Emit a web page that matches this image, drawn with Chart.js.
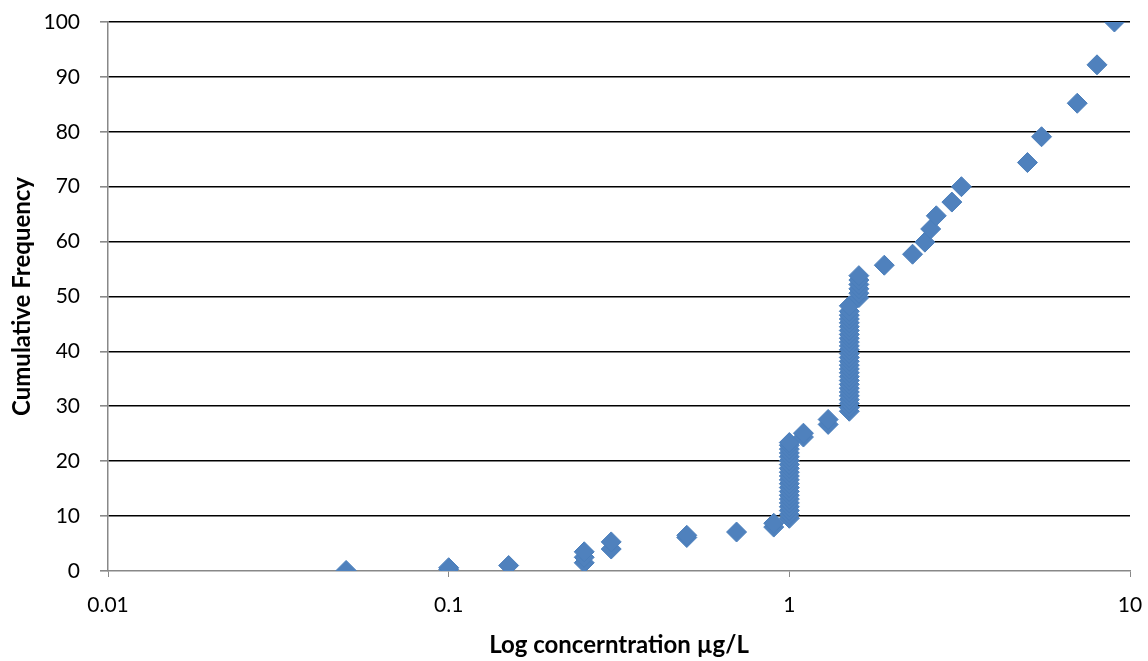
<!DOCTYPE html>
<html>
<head>
<meta charset="utf-8">
<script src="https://cdn.jsdelivr.net/npm/chart.js@4"></script>
<style>
  html, body { margin: 0; padding: 0; background: #fff; }
  #wrap { width: 1148px; height: 661px; }
</style>
</head>
<body>
<div id="wrap"><canvas id="chart"></canvas></div>
<script>
// concentration (µg/L) and cumulative frequency (%)
const concentration = [
  0.05, 0.1, 0.1, 0.15, 0.25, 0.25, 0.25, 0.3, 0.3, 0.5, 0.5, 0.7, 0.9, 0.9,
  1, 1, 1, 1, 1, 1, 1, 1, 1, 1, 1, 1, 1, 1, 1, 1, 1, 1, 1, 1, 1,
  1.1, 1.1, 1.3, 1.3,
  1.5, 1.5, 1.5, 1.5, 1.5, 1.5, 1.5, 1.5, 1.5, 1.5, 1.5, 1.5, 1.5, 1.5,
  1.5, 1.5, 1.5, 1.5, 1.5, 1.5, 1.5, 1.5, 1.5, 1.5, 1.5, 1.5, 1.5, 1.5,
  1.6, 1.6, 1.6, 1.6, 1.6, 1.6,
  1.9, 2.3, 2.5, 2.6, 2.7, 3.0, 3.2, 5.0, 5.5, 7.0, 8.0, 9.0
];
const cumFreq = [
  0.1, 0.3, 0.6, 1.0, 1.5, 2.5, 3.5, 4.0, 5.3, 6.1, 6.5, 7.1, 8.0, 8.7,
  9.6, 10.3, 11.0, 11.7, 12.4, 13.1, 13.8, 14.5, 15.2, 15.9, 16.6, 17.3, 18.0, 18.7,
  19.4, 20.1, 20.8, 21.5, 22.2, 22.9, 23.4,
  24.4, 25.1, 26.7, 27.6,
  29.1, 29.8, 30.5, 31.2, 31.9, 32.6, 33.3, 34.0, 34.7, 35.4, 36.1, 36.8, 37.5, 38.2,
  38.9, 39.6, 40.3, 41.0, 41.7, 42.4, 43.1, 43.8, 44.5, 45.2, 45.9, 46.6, 47.3, 48.3,
  49.8, 50.6, 51.4, 52.2, 53.0, 53.8,
  55.7, 57.7, 59.9, 62.3, 64.7, 67.2, 70.0, 74.4, 79.1, 85.2, 92.2, 100
];
const xTicks = [0.01, 0.1, 1, 10];
const yTicks = [0, 10, 20, 30, 40, 50, 60, 70, 80, 90, 100];

const points = concentration.map((c, i) => ({ x: c, y: cumFreq[i] }));

const ctx = document.getElementById('chart').getContext('2d');
new Chart(ctx, {
    type: 'scatter',
    data: {
        datasets: [{
            data: points,
            pointStyle: 'rectRot',
            pointRadius: 10,
            pointBackgroundColor: '#4F81BD',
            pointBorderColor: '#4A7EBB',
            pointBorderWidth: 1
        }]
    },
    options: {
        responsive: true,
        maintainAspectRatio: false,
        animation: false,
        layout: { padding: { top: 22, right: 18, left: 0, bottom: 0 } },
        plugins: { legend: { display: false }, tooltip: { enabled: false } },
        scales: {
            x: {
                type: 'logarithmic',
                min: 0.01,
                max: 10,
                afterBuildTicks: scale => { scale.ticks = xTicks.map(v => ({ value: v })); },
                afterFit: scale => {
                    scale.height = 90;
                    scale.paddingLeft = 0;
                    scale.paddingRight = 0;
                },
                ticks: {
                    color: '#000',
                    font: { family: 'Lato', size: 21 },
                    padding: 16,
                    maxRotation: 0,
                    callback: v => String(v)
                },
                grid: { drawOnChartArea: false, drawTicks: true, tickLength: 6, color: '#888' },
                border: { color: '#888', width: 1.5 },
                title: {
                    display: true,
                    text: 'Log concerntration µg/L',
                    color: '#000',
                    font: { family: 'Lato', size: 24, weight: 'bold' },
                    padding: { top: 0, bottom: 1 }
                }
            },
            y: {
                min: 0,
                max: 100,
                afterBuildTicks: scale => { scale.ticks = yTicks.map(v => ({ value: v })); },
                afterFit: scale => {
                    scale.width = 108;
                    scale.paddingTop = 0;
                    scale.paddingBottom = 0;
                },
                ticks: {
                    color: '#000',
                    font: { family: 'Lato', size: 21 },
                    padding: 20
                },
                grid: {
                    color: c => c.tick && c.tick.value === 0 ? 'rgba(0,0,0,0)' : '#000',
                    tickColor: '#888',
                    tickLength: 8,
                    lineWidth: 1.6
                },
                border: { color: '#888', width: 1.5 },
                title: {
                    display: true,
                    text: 'Cumulative Frequency',
                    color: '#000',
                    font: { family: 'Lato', size: 24, weight: 'bold' },
                    padding: { top: 8, bottom: 0 }
                }
            }
        }
    }
});
</script>
</body>
</html>
